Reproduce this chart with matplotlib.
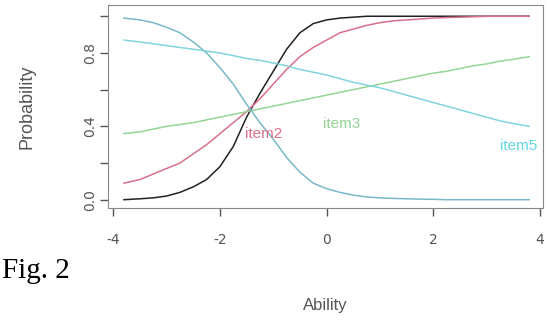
import matplotlib

matplotlib.use("Agg")
import matplotlib.pyplot as plt

# ability grid and item response probabilities
ability = [-3.8, -3.5, -3.25, -3.0, -2.75, -2.5, -2.25, -2.0, -1.75, -1.5,
           -1.25, -1.0, -0.75, -0.5, -0.25, 0.0, 0.25, 0.5, 0.75, 1.0,
           1.25, 1.5, 1.75, 2.0, 2.25, 2.5, 2.75, 3.0, 3.25, 3.5, 3.8]
item1 = [0.00, 0.005, 0.01, 0.02, 0.04, 0.07, 0.11, 0.18, 0.29, 0.45,
         0.58, 0.70, 0.82, 0.91, 0.96, 0.98, 0.99, 0.995, 1.0, 1.0,
         1.0, 1.0, 1.0, 1.0, 1.0, 1.0, 1.0, 1.0, 1.0, 1.0, 1.0]
item2 = [0.09, 0.11, 0.14, 0.17, 0.20, 0.25, 0.30, 0.36, 0.42, 0.48,
         0.55, 0.63, 0.71, 0.78, 0.83, 0.87, 0.91, 0.93, 0.95, 0.965,
         0.975, 0.98, 0.985, 0.99, 0.993, 0.995, 0.997, 1.0, 1.0, 1.0, 1.0]
item3 = [0.36, 0.37, 0.385, 0.40, 0.41, 0.42, 0.435, 0.45, 0.465, 0.48,
         0.495, 0.51, 0.525, 0.54, 0.555, 0.57, 0.585, 0.60, 0.615, 0.63,
         0.645, 0.66, 0.675, 0.69, 0.70, 0.715, 0.73, 0.74, 0.755, 0.765, 0.78]
item4 = [0.99, 0.98, 0.965, 0.94, 0.91, 0.86, 0.80, 0.72, 0.63, 0.52,
         0.42, 0.33, 0.23, 0.15, 0.09, 0.06, 0.04, 0.025, 0.015, 0.01,
         0.007, 0.005, 0.003, 0.002, 0.0, 0.0, 0.0, 0.0, 0.0, 0.0, 0.0]
item5 = [0.87, 0.86, 0.85, 0.84, 0.83, 0.82, 0.81, 0.80, 0.785, 0.77,
         0.76, 0.745, 0.73, 0.71, 0.695, 0.68, 0.66, 0.64, 0.625, 0.61,
         0.59, 0.57, 0.55, 0.53, 0.51, 0.49, 0.47, 0.45, 0.43, 0.415, 0.40]

labels = ["item2", "item3", "item5"]
label_x = [-1.18, 0.28, 3.6]
label_y = [0.36, 0.41, 0.29]

fig = plt.figure(figsize=(5.48, 3.28), dpi=100)
ax = fig.add_axes([0.197, 0.366, 0.793, 0.618])

ax.plot(ability, item1, color="#222222", lw=1.1)
ax.plot(ability, item2, color="#d9708a", lw=1.1)
ax.plot(ability, item3, color="#95d595", lw=1.1)
ax.plot(ability, item4, color="#78b8c8", lw=1.1)
ax.plot(ability, item5, color="#80d4dc", lw=1.1)

for txt, tx, ty, c in zip(labels, label_x, label_y,
                          ["#d9708a", "#95d595", "#60d8e0"]):
    ax.text(tx, ty, txt, color=c, fontsize=11, ha="center", va="center",
            family="Liberation Sans")

ax.set_xlim(-4.1, 4.05)
ax.set_ylim(-0.045, 1.06)
ax.set_xticks([-4, -2, 0, 2, 4])
ax.set_xticklabels(["-4", "-2", "0", "2", "4"])
ax.set_yticks([0.0, 0.2, 0.4, 0.6, 0.8, 1.0])
ax.set_yticklabels(["0.0", "", "0.4", "", "0.8", ""], rotation=90, va="center")
ax.tick_params(colors="#555555", labelcolor="#555555", labelsize=10,
               length=6, width=1.0)
ax.tick_params(axis="x", pad=12)
ax.tick_params(axis="y", pad=2)
for sp in ax.spines.values():
    sp.set_color("#888888")

ax.set_ylabel("Probability", color="#555555", fontsize=13, labelpad=34,
              family="Liberation Sans")
fig.text(0.593, 0.07, "Ability", ha="center", va="center", color="#555555",
         fontsize=12, family="Liberation Sans")
fig.text(0.003, 0.175, "Fig. 2", ha="left", va="center", color="black",
         fontsize=21, family="Liberation Serif")

fig.savefig("out.png", dpi=100)
